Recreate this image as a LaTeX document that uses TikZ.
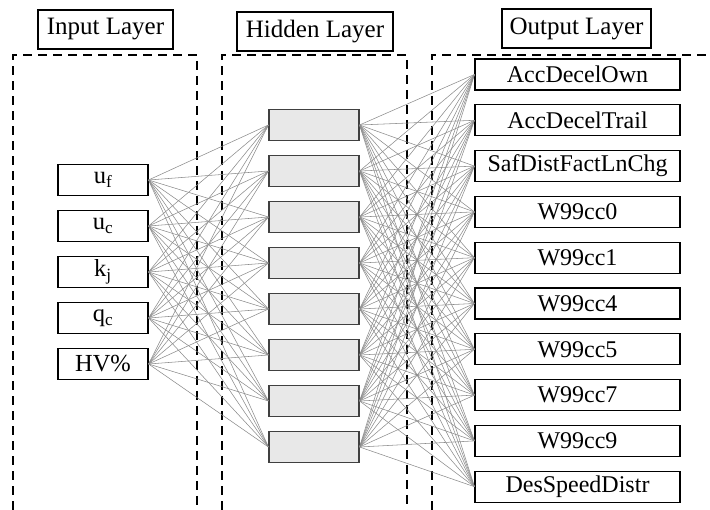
\documentclass[tikz,border=0pt]{standalone}
\usepackage{fontspec}
\setmainfont{Liberation Serif}
\begin{document}
\begin{tikzpicture}[x=1pt,y=-1pt,
  lbl/.style={draw=black,line width=1.1pt,inner sep=0pt,minimum height=39pt,font=\fontsize{25}{28}\selectfont},
  inbox/.style={draw=black,line width=1.1pt,inner sep=0pt,minimum width=90pt,minimum height=31pt,font=\fontsize{24.5}{27}\selectfont},
  hidbox/.style={draw=black!75,fill=black!9,line width=1.1pt,inner sep=0pt,minimum width=90pt,minimum height=31pt},
  outbox/.style={draw=black,line width=1.1pt,inner sep=0pt,minimum width=205pt,minimum height=31pt,font=\fontsize{24}{27}\selectfont},
  layer/.style={draw=black,line width=2.4pt,dash pattern=on 9pt off 6pt},
  conn/.style={draw=black!45,line width=0.55pt}]
\useasboundingbox (0,0) rectangle (710,510);
% dashed layer frames
\draw[layer] (13,510) -- (13,55) -- (197,55) -- (197,510);
\draw[layer] (222,510) -- (222,55) -- (407,55) -- (407,510);
\draw[layer] (432,510) -- (432,55) -- (712,55);
% layer labels
\node[lbl,minimum width=135pt] (Lin) at (105.5,29.5) {Input Layer};
\node[lbl,minimum width=156pt] (Lhid) at (315,31.5) {Hidden Layer};
\node[lbl,minimum width=149pt] (Lout) at (576.5,28.5) {Output Layer};
% nodes
\foreach \i/\t in {1/u\textsubscript{f},2/u\textsubscript{c},3/k\textsubscript{j},4/q\textsubscript{c},5/HV\%}
  \path (103,{180+46*(\i-1)}) node[inbox] (in\i) {\t};
\foreach \j in {1,...,8}
  \path (314,{125+46*(\j-1)}) node[hidbox] (h\j) {};
\foreach \k/\t in {1/AccDecelOwn,2/AccDecelTrail,3/SafDistFactLnChg,4/W99cc0,5/W99cc1,6/W99cc4,7/W99cc5,8/W99cc7,9/W99cc9,10/DesSpeedDistr}
  \path (577.5,{74.5+45.8*(\k-1)}) node[outbox] (o\k) {\t};
% connectors
\foreach \i in {1,...,5}
  \foreach \j in {1,...,8}
    \draw[conn] (in\i.east) -- (h\j.west);
\foreach \j in {1,...,8}
  \foreach \k in {1,...,10}
    \draw[conn] (h\j.east) -- (o\k.west);
\end{tikzpicture}
\end{document}
